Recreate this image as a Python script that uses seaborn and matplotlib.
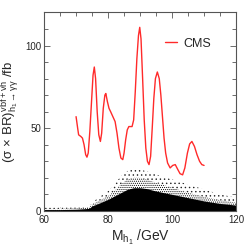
import numpy as np
import pandas as pd
import matplotlib
matplotlib.use("Agg")
import matplotlib.pyplot as plt
from matplotlib.ticker import MultipleLocator
import seaborn as sns

# CMS curve
cms_mass = [70.0, 70.5, 70.8, 71.5, 72.0, 72.5, 73.0, 73.4, 73.8, 74.3, 74.8, 75.3, 75.7,
            76.1, 76.6, 77.1, 77.6, 78.0, 78.5, 79.0, 79.3, 79.8, 80.3, 80.8, 81.5, 82.2,
            82.8, 83.4, 84.0, 84.6, 85.0, 85.5, 86.0, 86.5, 87.5, 88.0, 88.5, 89.0, 89.5,
            89.9, 90.3, 90.8, 91.3, 91.8, 92.3, 92.8, 93.3, 93.8, 94.3, 94.8, 95.4, 96.0,
            96.5, 97.0, 97.5, 98.0, 98.6, 99.4, 100.2, 101.0, 101.8, 102.5, 103.3, 104.0,
            104.8, 105.5, 106.2, 107.0, 107.8, 108.6, 109.3, 110.0]
cms_xsec = [57, 50, 46, 45, 44, 40, 34, 32.5, 35, 48, 65, 82, 87,
            80, 60, 46, 42, 47, 62, 70, 71, 66, 62, 60, 57, 54,
            47, 38, 32, 31, 35, 43, 49, 51, 51, 55, 72, 92, 106,
            111, 104, 80, 55, 38, 30, 28, 33, 50, 68, 80, 84, 80,
            70, 57, 44, 35, 29, 26, 27.5, 28, 25, 22.5, 21.8, 26,
            35, 40.5, 42, 39, 34, 30, 28, 27.5]

# scan points cloud: envelopes
cloud_mass = [60, 65, 70, 74, 75, 77, 80, 82, 84, 86, 88, 90, 92, 95, 100, 105, 110, 115, 120]
cloud_top = [2, 2, 2.5, 3, 5, 8, 12, 16, 21, 24, 26, 25, 24, 22, 19, 16, 13, 10, 8]
cloud_mid = [1.2, 1.2, 1.5, 2, 4, 6, 9, 12, 16, 19, 20, 20, 19, 17, 14, 11, 8.5, 6.5, 5]
cloud_solid = [0.8, 0.8, 1, 1.5, 3, 4.5, 7, 9, 11, 13, 14, 14, 13.5, 12, 10, 8, 6, 4.5, 3.5]

df = pd.DataFrame({"mass": cms_mass, "xsec": cms_xsec})

sns.set_style("ticks")
plt.rcParams['font.family'] = ['Liberation Sans', 'DejaVu Sans']
plt.rcParams['mathtext.fontset'] = 'custom'
plt.rcParams['mathtext.rm'] = 'Liberation Sans'
plt.rcParams['mathtext.it'] = 'Liberation Sans'
plt.rcParams['hatch.linewidth'] = 0.5

fig = plt.figure(figsize=(2.49, 2.49), dpi=100)
ax = fig.add_axes([0.177, 0.153, 0.771, 0.797])

ax.fill_between(cloud_mass, 0, cloud_top, facecolor="white", edgecolor="#222222",
                hatch="....", linewidth=0)
ax.fill_between(cloud_mass, 0, cloud_mid, facecolor="white", edgecolor="black",
                hatch="........", linewidth=0)
ax.fill_between(cloud_mass, 0, cloud_solid, color="black", linewidth=0)

sns.lineplot(data=df, x="mass", y="xsec", ax=ax, color="#ff2a2a", lw=1.0, label="CMS")

ax.set_xlim(60, 120)
ax.set_ylim(0, 120)
ax.xaxis.set_major_locator(MultipleLocator(20))
ax.xaxis.set_minor_locator(MultipleLocator(5))
ax.yaxis.set_major_locator(MultipleLocator(50))
ax.yaxis.set_minor_locator(MultipleLocator(10))
ax.tick_params(which="both", direction="in", top=True, right=True, labelsize=7,
               color="#555555", width=0.6)
ax.tick_params(which="major", length=4, pad=2)
ax.tick_params(axis="x", which="major", pad=3)
ax.tick_params(which="minor", length=3)
for s in ax.spines.values():
    s.set_linewidth(0.8)
    s.set_color("#555555")

ax.set_xlabel(r"M$_{h_1}$ /GeV", fontsize=10, labelpad=2)
ax.set_ylabel(r"$(\sigma\,\times\,$BR$)^{vbf+vh}_{h_1\to\gamma\gamma}$ /fb", fontsize=9.5, labelpad=3)

ax.legend(loc="upper right", bbox_to_anchor=(0.93, 0.93), frameon=False, fontsize=9,
          handlelength=1.0, handletextpad=0.5)

fig.savefig("out.png", dpi=100)
